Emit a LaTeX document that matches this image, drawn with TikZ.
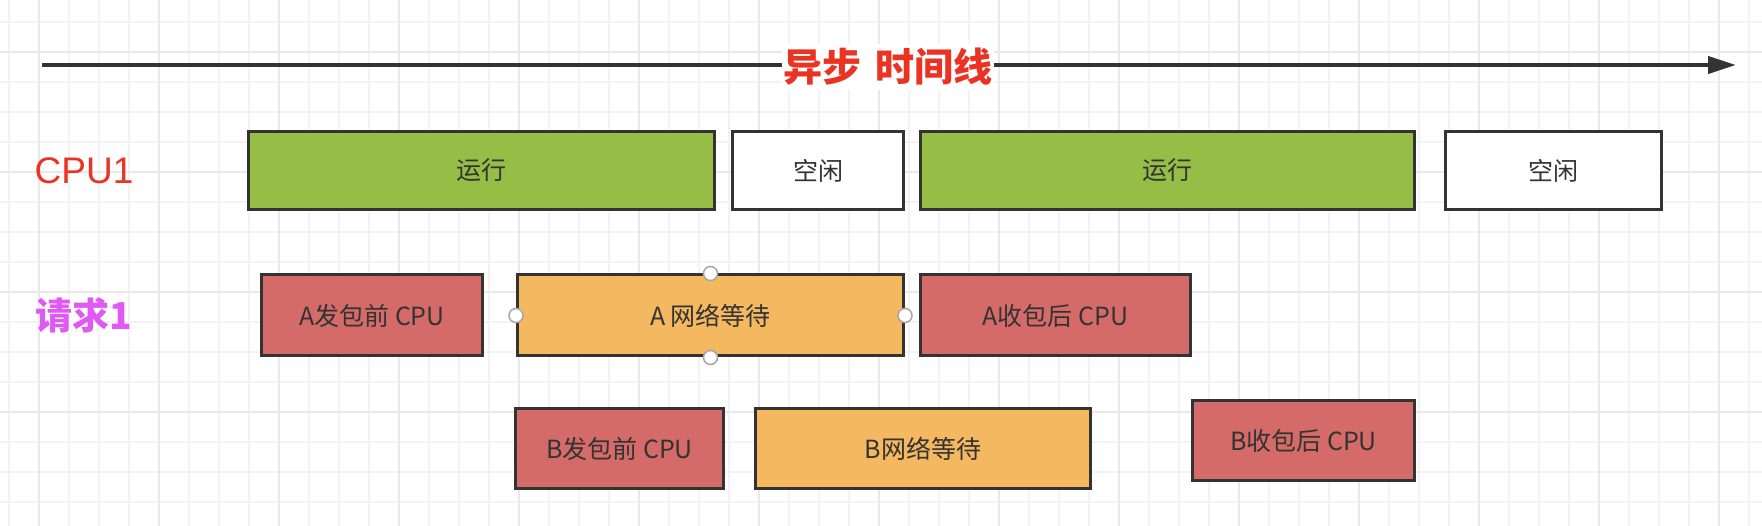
\documentclass[tikz,border=0pt]{standalone}
\usepackage{fontspec}
\setmainfont{Noto Sans CJK SC}
\newfontfamily\latinfont{Liberation Sans}
\usetikzlibrary{arrows.meta,positioning}
\definecolor{Ink}{HTML}{333333}
\definecolor{RunGreen}{HTML}{96BE46}
\definecolor{CpuRed}{HTML}{D46B68}
\definecolor{WaitOrange}{HTML}{F4B860}
\definecolor{TitleRed}{HTML}{EA3323}
\definecolor{ReqPink}{HTML}{E058F5}
\definecolor{GridMinor}{HTML}{F3F3F3}
\definecolor{GridMajor}{HTML}{E9E9E9}

\begin{document}
\begin{tikzpicture}[
      x=1pt, y=-1pt,
      >={Triangle[length=28pt,width=17pt]},
      slot/.style={draw=Ink, line width=3pt, inner sep=0pt, text=Ink,
                   font=\fontsize{25}{30}\selectfont},
      run/.style={slot, fill=RunGreen, minimum height=78pt},
      idle/.style={slot, fill=white, minimum height=78pt},
      cpu/.style={slot, fill=CpuRed},
      wait/.style={slot, fill=WaitOrange},
      handle/.style={circle, draw=gray!70, fill=white, line width=1.5pt,
                     minimum size=14pt, inner sep=0pt},
      rowlabel/.style={font=\fontsize{38}{44}\selectfont}
    ]
      \fill[white] (0,0) rectangle (1762,526);
      \useasboundingbox (0,0) rectangle (1762,526);

      % background grid
      \foreach \gx in {9,39,...,1761}
        \draw[GridMinor, line width=1.5pt] (\gx,0) -- (\gx,526);
      \foreach \gy in {22,52,...,526}
        \draw[GridMinor, line width=1.5pt] (0,\gy) -- (1762,\gy);
      \foreach \gx in {39,159,...,1761}
        \draw[GridMajor, line width=2pt] (\gx,0) -- (\gx,526);
      \foreach \gy in {52,172,...,526}
        \draw[GridMajor, line width=2pt] (0,\gy) -- (1762,\gy);

      % time axis
      \coordinate (t0) at (42,65);
      \coordinate (t1) at (1736,65);
      \draw[->, line width=4pt, Ink] (t0) -- (t1);
      \node[fill=white, text=TitleRed, inner xsep=2pt, inner ysep=4pt,
            font=\fontsize{39}{46}\selectfont\bfseries] (title) at (888,67)
            {异步\hspace{0.35em}时间线};

      % row labels
      \node[rowlabel, text=TitleRed, font=\latinfont\fontsize{37}{44}\selectfont]
            (cpu) at (84,171) {CPU1};
      \node[rowlabel, text=ReqPink, font=\fontsize{37}{44}\selectfont\bfseries]
            (req) at (84,315) {请求1};

      % CPU1
      \node[run, anchor=west, minimum width=466pt] (r1) at (247,170.5) {运行};
      \node[idle, right=15pt of r1, minimum width=171pt] (i1) {空闲};
      \node[run, right=14pt of i1, minimum width=494pt] (r2) {运行};
      \node[idle, right=28pt of r2, minimum width=216pt] (i2) {空闲};

      % request A
      \node[cpu, anchor=west, minimum width=221pt, minimum height=81pt] (a1) at (260,315.5) {A发包前 CPU};
      \node[wait, right=32pt of a1, minimum width=386pt, minimum height=81pt] (a2) {A 网络等待};
      \node[cpu, right=14pt of a2, minimum width=270pt, minimum height=81pt] (a3) {A收包后 CPU};

      % request B
      \node[cpu, anchor=west, minimum width=208pt, minimum height=80pt] (b1) at (514,448.5) {B发包前 CPU};
      \node[wait, right=29pt of b1, minimum width=335pt, minimum height=80pt] (b2) {B网络等待};
      \node[cpu, anchor=west, minimum width=222pt, minimum height=80pt] (b3) at (1191,440.5) {B收包后 CPU};

      % selection handles
      \node[handle] (hn) at (a2.north) {};
      \node[handle] (hs) at (a2.south) {};
      \node[handle] (hw) at (a2.west) {};
      \node[handle] (he) at (a2.east) {};
    \end{tikzpicture}
\end{document}
